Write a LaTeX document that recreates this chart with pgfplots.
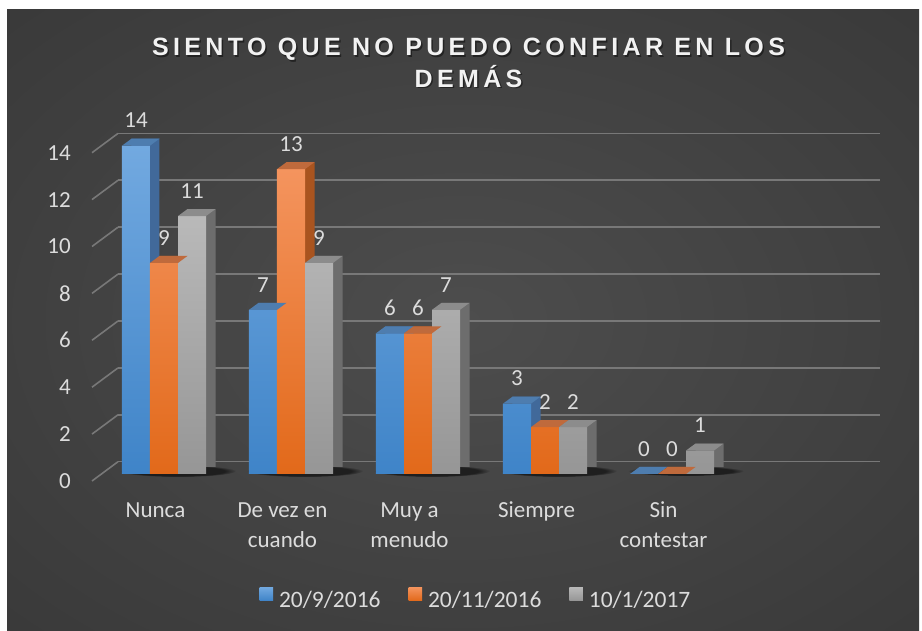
\documentclass[border=0pt]{standalone}
\usepackage{fontspec}
\setmainfont{Carlito}
\newfontfamily\titlefont[LetterSpace=17.5]{Liberation Sans}
\usepackage{pgfplots}
\usepackage{pgfplotstable}
\usetikzlibrary{fadings}
\pgfplotsset{compat=1.18}
\definecolor{bgIn}{HTML}{4D4D4D}
\definecolor{bgMid}{HTML}{2F2F2F}
\definecolor{bgOut}{HTML}{272727}
\definecolor{gridc}{HTML}{787878}
\definecolor{txt}{HTML}{DCDCDC}
\definecolor{blueT}{HTML}{72A9E0}
\definecolor{blueB}{HTML}{3F84C8}
\definecolor{blueS}{HTML}{41699A}
\definecolor{blueTop}{HTML}{4E7DAF}
\definecolor{oranT}{HTML}{F4945E}
\definecolor{oranB}{HTML}{E2691A}
\definecolor{oranS}{HTML}{A9541F}
\definecolor{oranTop}{HTML}{BF6A3C}
\definecolor{grayT}{HTML}{B9B9B9}
\definecolor{grayB}{HTML}{969696}
\definecolor{grayS}{HTML}{6D6D6D}
\definecolor{grayTop}{HTML}{8C8C8C}
\pgfdeclareradialshading{bgshade}{\pgfpoint{0bp}{0bp}}{color(0bp)=(bgIn); color(55bp)=(bgMid); color(75bp)=(bgOut)}
\pgfdeclareplotmark{topL}{\pgfpathmoveto{\pgfpoint{-42bp}{0bp}}\pgfpathlineto{\pgfpoint{-32.5bp}{7bp}}\pgfpathlineto{\pgfpoint{-4.5bp}{7bp}}\pgfpathlineto{\pgfpoint{-14bp}{0bp}}\pgfpathclose\pgfusepathqfill}
\pgfdeclareplotmark{topM}{\pgfpathmoveto{\pgfpoint{-14bp}{0bp}}\pgfpathlineto{\pgfpoint{-4.5bp}{7bp}}\pgfpathlineto{\pgfpoint{23.5bp}{7bp}}\pgfpathlineto{\pgfpoint{14bp}{0bp}}\pgfpathclose\pgfusepathqfill}
\pgfdeclareplotmark{topR}{\pgfpathmoveto{\pgfpoint{14bp}{0bp}}\pgfpathlineto{\pgfpoint{23.5bp}{7bp}}\pgfpathlineto{\pgfpoint{51.5bp}{7bp}}\pgfpathlineto{\pgfpoint{42bp}{0bp}}\pgfpathclose\pgfusepathqfill}
\pgfplotstableread{
x a b c
0 14 9 11
1 7 13 9
2 6 6 7
3 3 2 2
4 0 0 1
}\datatable
\newcommand{\lbl}{\fontsize{23bp}{29.5bp}\selectfont}
\newcommand{\ts}{\rule{0pt}{16bp}}
\begin{document}
\begin{tikzpicture}
\fill[white] (0,0) rectangle (922bp,631bp);
\shade[shading=bgshade] (7bp,0) rectangle (919bp,621bp);
\node[anchor=base, text=black, opacity=0.45] at (470bp,573.8bp) {\titlefont\fontsize{25bp}{30bp}\selectfont\bfseries SIENTO QUE NO PUEDO CONFIAR EN LOS};
\node[anchor=base, text=black, opacity=0.45] at (470bp,542.2bp) {\titlefont\fontsize{25bp}{30bp}\selectfont\bfseries DEMÁS};
\node[anchor=base, text={rgb,255:red,242;green,242;blue,242}] at (468.5bp,575.3bp) {\titlefont\fontsize{25bp}{30bp}\selectfont\bfseries SIENTO QUE NO PUEDO CONFIAR EN LOS};
\node[anchor=base, text={rgb,255:red,242;green,242;blue,242}] at (468.5bp,543.7bp) {\titlefont\fontsize{25bp}{30bp}\selectfont\bfseries DEMÁS};
\begin{axis}[
  at={(100.5bp,157bp)}, anchor=south west,
  scale only axis, width=762bp, height=328.3bp,
  xmin=-0.5, xmax=5.5, ymin=0, ymax=14,
  clip=false,
  axis line style={draw=none},
  major tick length=0pt,
  tick style={draw=none},
  /pgf/number format/assume math mode=true,
  ytick={0,2,...,14},
  xtick={0,1,2,3,4},
  xticklabels={\ts Nunca,{\ts De vez en\\cuando},{\ts Muy a\\menudo},\ts Siempre,{\ts Sin\\contestar}},
  xticklabel style={align=center, font=\lbl, text=txt, anchor=north, inner sep=0pt, yshift=-27.7bp, xshift=-8.5bp},
  yticklabel style={font=\lbl, text=txt, anchor=east, inner sep=0pt, xshift=-29.5bp, yshift=-7bp},
  bar width=0.2205,
  every node near coord/.append style={font=\lbl, text=txt, inner sep=0pt, anchor=south, yshift=17.5bp},
  legend columns=3,
  legend style={at={(0.4915,-0.3777)}, anchor=center, draw=none, fill=none, inner sep=0pt,
    font=\fontsize{23.5bp}{28bp}\selectfont, text=txt,
    nodes={inner sep=0pt}, column sep=6bp,
    /tikz/every even column/.append style={column sep=28bp}},
  legend cell align=left,
  legend image code/.code={\path[#1, draw=none] (0bp,-0.5bp) rectangle (13.4bp,12.9bp);},
]
\pgfplotsinvokeforeach{0,2,4,6,8,10,12,14}{
  \draw[gridc, line width=1.6bp] ([shift={(17.5bp,12.3bp)}]axis cs:-0.5,#1) -- ([shift={(17.5bp,12.3bp)}]axis cs:5.5,#1);
  \draw[gridc, line width=1.6bp] ([shift={(17.5bp,12.3bp)}]axis cs:-0.5,#1) -- ([shift={(-8.5bp,-7bp)}]axis cs:-0.5,#1);
}
% floor shadows
\pgfplotsinvokeforeach{0,1,2,3}{
  \fill[black, opacity=0.55, path fading=circle with fuzzy edge 20 percent] ([shift={(14bp,3bp)}]axis cs:#1,0) ellipse [x radius=58bp, y radius=6bp];
}
\fill[black, opacity=0.55, path fading=circle with fuzzy edge 20 percent] ([shift={(14bp,3bp)}]axis cs:4,0) ellipse [x radius=58bp, y radius=5bp];
% series 1
\addplot[ybar, bar shift=-0.2205, fill=blueS, draw=none, xshift=9.5bp, yshift=7bp, forget plot] table[x=x,y=a]{\datatable};
\addplot[ybar, bar shift=-0.2205, top color=blueT, bottom color=blueB, draw=none, nodes near coords,
  every node near coord/.append style={xshift=-28bp}] table[x=x,y=a]{\datatable};
\addlegendentry{20/9/2016}
\addplot[only marks, mark=topL, mark options={fill=blueTop, draw=none}, forget plot] table[x=x,y=a]{\datatable};
% series 2
\addplot[ybar, bar shift=0, fill=oranS, draw=none, xshift=9.5bp, yshift=7bp, forget plot] table[x=x,y=b]{\datatable};
\addplot[ybar, bar shift=0, top color=oranT, bottom color=oranB, draw=none, nodes near coords] table[x=x,y=b]{\datatable};
\addlegendentry{20/11/2016}
\addplot[only marks, mark=topM, mark options={fill=oranTop, draw=none}, forget plot] table[x=x,y=b]{\datatable};
% series 3
\addplot[ybar, bar shift=0.2205, fill=grayS, draw=none, xshift=9.5bp, yshift=7bp, forget plot] table[x=x,y=c]{\datatable};
\addplot[ybar, bar shift=0.2205, top color=grayT, bottom color=grayB, draw=none, nodes near coords,
  every node near coord/.append style={xshift=28bp}] table[x=x,y=c]{\datatable};
\addlegendentry{10/1/2017}
\addplot[only marks, mark=topR, mark options={fill=grayTop, draw=none}, forget plot] table[x=x,y=c]{\datatable};
\end{axis}
\end{tikzpicture}
\end{document}
